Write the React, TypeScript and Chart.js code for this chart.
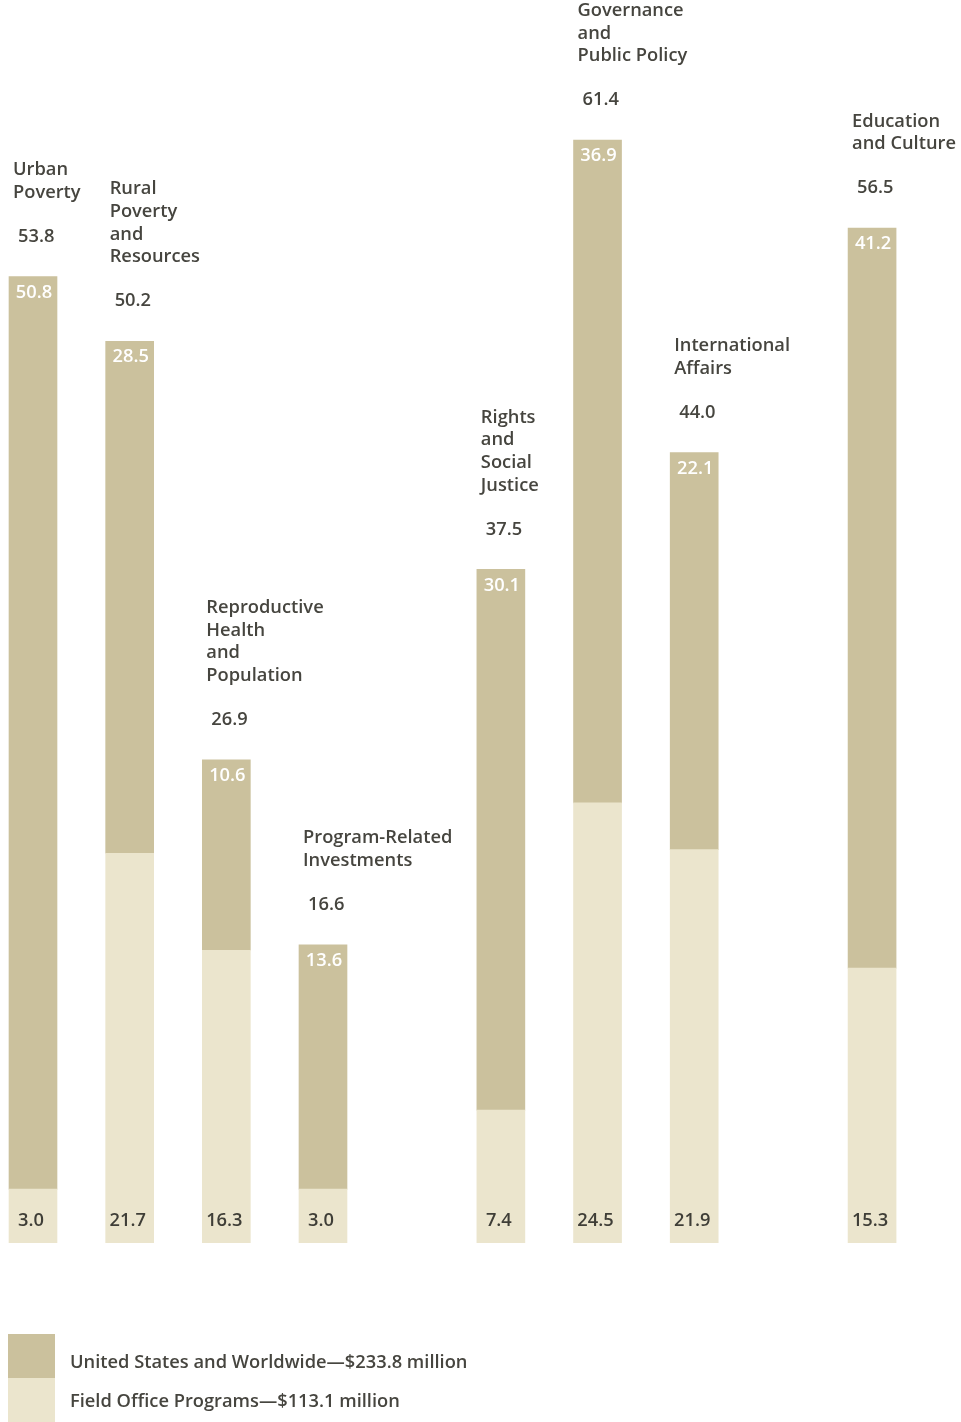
import React, { useEffect, useRef } from "react";
import { Chart, registerables } from "chart.js";

Chart.register(...registerables);

// ---- data ----
const categoryLines: string[][] = [
  ["Urban", "Poverty"],
  ["Rural", "Poverty", "and", "Resources"],
  ["Reproductive", "Health", "and", "Population"],
  ["Program-Related", "Investments"],
  ["Rights", "and", "Social", "Justice"],
  ["Governance", "and", "Public Policy"],
  ["International", "Affairs"],
  ["Education", "and Culture"],
];
const fieldOffice = [3.0, 21.7, 16.3, 3.0, 7.4, 24.5, 21.9, 15.3];
const usWorldwide = [50.8, 28.5, 10.6, 13.6, 30.1, 36.9, 22.1, 41.2];
const totals = [53.8, 50.2, 26.9, 16.6, 37.5, 61.4, 44.0, 56.5];
const legendLabels = [
  "United States and Worldwide\u2014$233.8 million",
  "Field Office Programs\u2014$113.1 million",
];

// ---- layout / style ----
const W = 961;
const H = 1422;
const GAP_BEFORE = [4, 7]; // extra space before these category indexes
const GAP = 0.84;
const DARK = "#cbc19d";
const LIGHT = "#ebe5cd";
const TEXT = "#46453f";
const FONT = "600 18.3px 'Open Sans', sans-serif";

const slot = (i: number) => i + GAP * GAP_BEFORE.filter((g) => g <= i).length;

export default function App() {
  const ref = useRef<HTMLCanvasElement | null>(null);

  useEffect(() => {
    const canvas = ref.current;
    if (!canvas) return;

    const labelPlugin = {
      id: "labels",
      afterDatasetsDraw(chart: any) {
        const ctx = chart.ctx as CanvasRenderingContext2D;
        const bottomMeta = chart.getDatasetMeta(0);
        const topMeta = chart.getDatasetMeta(1);
        ctx.save();
        ctx.font = FONT;
        ctx.textBaseline = "middle";
        for (let i = 0; i < totals.length; i++) {
          const tb = topMeta.data[i] as any;
          const bb = bottomMeta.data[i] as any;
          const left = tb.x - tb.width / 2;
          const topY = tb.y;
          // total
          ctx.fillStyle = TEXT;
          ctx.textAlign = "left";
          ctx.fillText(totals[i].toFixed(1), left + 9, topY - 40);
          // category name
          const lines = categoryLines[i];
          lines.forEach((ln, k) => {
            const y = topY - 40 - 44 - (lines.length - 1 - k) * 22.7;
            ctx.fillText(ln, left + 4, y);
          });
          // top segment value (white)
          ctx.fillStyle = "#ffffff";
          ctx.textAlign = "center";
          ctx.fillText(usWorldwide[i].toFixed(1), tb.x + 1, topY + 16);
          // bottom segment value
          ctx.fillStyle = "#3f3e37";
          ctx.fillText(fieldOffice[i].toFixed(1), bb.x - 2, bb.base - 22);
        }
        // legend
        const sw = 47;
        ctx.fillStyle = DARK;
        ctx.fillRect(8, 1334, sw, 44);
        ctx.fillStyle = LIGHT;
        ctx.fillRect(8, 1378, sw, 44);
        ctx.fillStyle = TEXT;
        ctx.textAlign = "left";
        ctx.fillText(legendLabels[0], 70, 1363);
        ctx.fillText(legendLabels[1], 70, 1402);
        ctx.restore();
      },
    };

    const chart = new Chart(canvas, {
      type: "bar",
      data: {
        datasets: [
          {
            label: legendLabels[1],
            data: fieldOffice.map((v, i) => ({ x: slot(i), y: v })),
            backgroundColor: LIGHT,
            borderWidth: 0,
            barThickness: 48,
          },
          {
            label: legendLabels[0],
            data: usWorldwide.map((v, i) => ({ x: slot(i), y: v })),
            backgroundColor: DARK,
            borderWidth: 0,
            barThickness: 48,
          },
        ],
      },
      options: {
        animation: false,
        responsive: false,
        maintainAspectRatio: false,
        layout: { padding: { top: 0, left: 0, right: 0, bottom: 179 } },
        plugins: {
          legend: { display: false },
          tooltip: { enabled: false },
        },
        scales: {
          x: {
            type: "linear",
            min: -0.3414,
            max: 9.6,
            offset: false,
            stacked: true,
            display: false,
          },
          y: {
            min: 0,
            max: 69.2,
            stacked: true,
            display: false,
          },
        },
      },
      plugins: [labelPlugin],
    } as any);

    return () => chart.destroy();
  }, []);

  return (
    <div style={{ position: "absolute", left: 0, top: 0, width: W, height: H, background: "#fff" }}>
      <canvas ref={ref} width={W} height={H} style={{ width: W, height: H, display: "block" }} />
    </div>
  );
}
